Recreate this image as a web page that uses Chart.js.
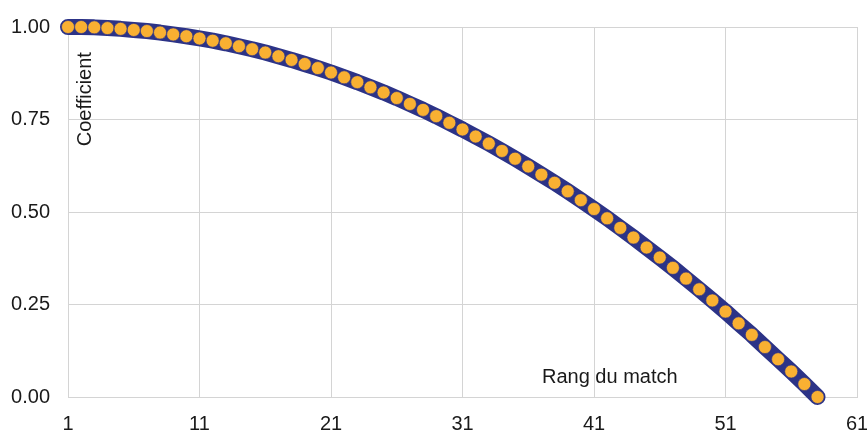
<!DOCTYPE html>
<html>
<head>
<meta charset="utf-8">
<script src="https://cdn.jsdelivr.net/npm/chart.js@4/dist/chart.umd.min.js"></script>
<style>
html,body{margin:0;padding:0;background:#fff;}
#wrap{width:867px;height:431px;position:relative;}
</style>
</head>
<body>
<div id="wrap"><canvas id="c"></canvas></div>
<script>
const matchRanks = [1,2,3,4,5,6,7,8,9,10,11,12,13,14,15,16,17,18,19,20,21,22,23,24,25,26,27,28,29,30,31,32,33,34,35,36,37,38,39,40,41,42,43,44,45,46,47,48,49,50,51,52,53,54,55,56,57,58];
const coefficients = [1.000,1.000,0.999,0.997,0.995,0.992,0.989,0.985,0.980,0.975,0.969,0.963,0.956,0.948,0.940,0.931,0.921,0.911,0.900,0.889,0.877,0.864,0.851,0.837,0.823,0.808,0.792,0.776,0.759,0.741,0.723,0.704,0.685,0.665,0.644,0.623,0.601,0.579,0.556,0.532,0.508,0.483,0.457,0.431,0.404,0.377,0.349,0.320,0.291,0.261,0.231,0.199,0.168,0.135,0.102,0.069,0.035,0.000];
const xTicks = [1,11,21,31,41,51,61];
const yTicks = [0,0.25,0.5,0.75,1];
const yTitle = "Coefficient";
const xTitle = "Rang du match";

const FONT = "'Liberation Sans', Arial, sans-serif";
const NAVY = '#2C3387';
const ORANGE = '#F9B032';

const titlesPlugin = {
  id: 'innerTitles',
  afterDraw(chart) {
    const ctx = chart.ctx;
    const xs = chart.scales.x, ys = chart.scales.y;
    ctx.save();
    ctx.fillStyle = '#1a1a1a';
    ctx.font = '20px ' + FONT;
    ctx.textAlign = 'center';
    ctx.textBaseline = 'middle';
    ctx.save();
    ctx.translate(xs.getPixelForValue(1) + 17, ys.getPixelForValue(0.805));
    ctx.rotate(-Math.PI / 2);
    ctx.fillText(yTitle, 0, 0);
    ctx.restore();
    ctx.fillText(xTitle, xs.getPixelForValue(42.2), ys.getPixelForValue(0.052));
    ctx.restore();
  }
};

new Chart(document.getElementById('c'), {
  type: 'line',
  data: {
    datasets: [{
      data: matchRanks.map((r, i) => ({x: r, y: coefficients[i]})),
      borderColor: NAVY,
      borderWidth: 16,
      borderCapStyle: 'round',
      borderJoinStyle: 'round',
      tension: 0,
      pointRadius: 6.5,
      pointBackgroundColor: ORANGE,
      pointBorderColor: NAVY,
      pointBorderWidth: 0.6,
      clip: false,
      fill: false
    }]
  },
  options: {
    responsive: true,
    maintainAspectRatio: false,
    animation: false,
    devicePixelRatio: 1,
    layout: { padding: { left: 0, right: 0, top: 0, bottom: 0 } },
    plugins: { legend: { display: false }, tooltip: { enabled: false } },
    scales: {
      x: {
        type: 'linear',
        min: 1, max: 61,
        afterBuildTicks(scale) { scale.ticks = xTicks.map(v => ({value: v})); },
        afterFit(scale) { scale.height = 34; scale.paddingRight = 10; scale.paddingLeft = 0; },
        grid: { color: '#d4d4d4', lineWidth: 1, drawTicks: false },
        border: { color: '#d4d4d4' },
        ticks: { color: '#1a1a1a', font: { family: FONT, size: 20 }, padding: 15, maxRotation: 0, autoSkip: false }
      },
      y: {
        min: 0, max: 1,
        afterBuildTicks(scale) { scale.ticks = yTicks.map(v => ({value: v})); },
        afterFit(scale) { scale.width = 68; scale.paddingTop = 27; scale.paddingBottom = 0; },
        grid: { color: '#d4d4d4', lineWidth: 1, drawTicks: false },
        border: { display: false },
        ticks: { color: '#1a1a1a', font: { family: FONT, size: 20 }, padding: 18, callback: v => Number(v).toFixed(2) }
      }
    }
  },
  plugins: [titlesPlugin]
});
</script>
</body>
</html>
